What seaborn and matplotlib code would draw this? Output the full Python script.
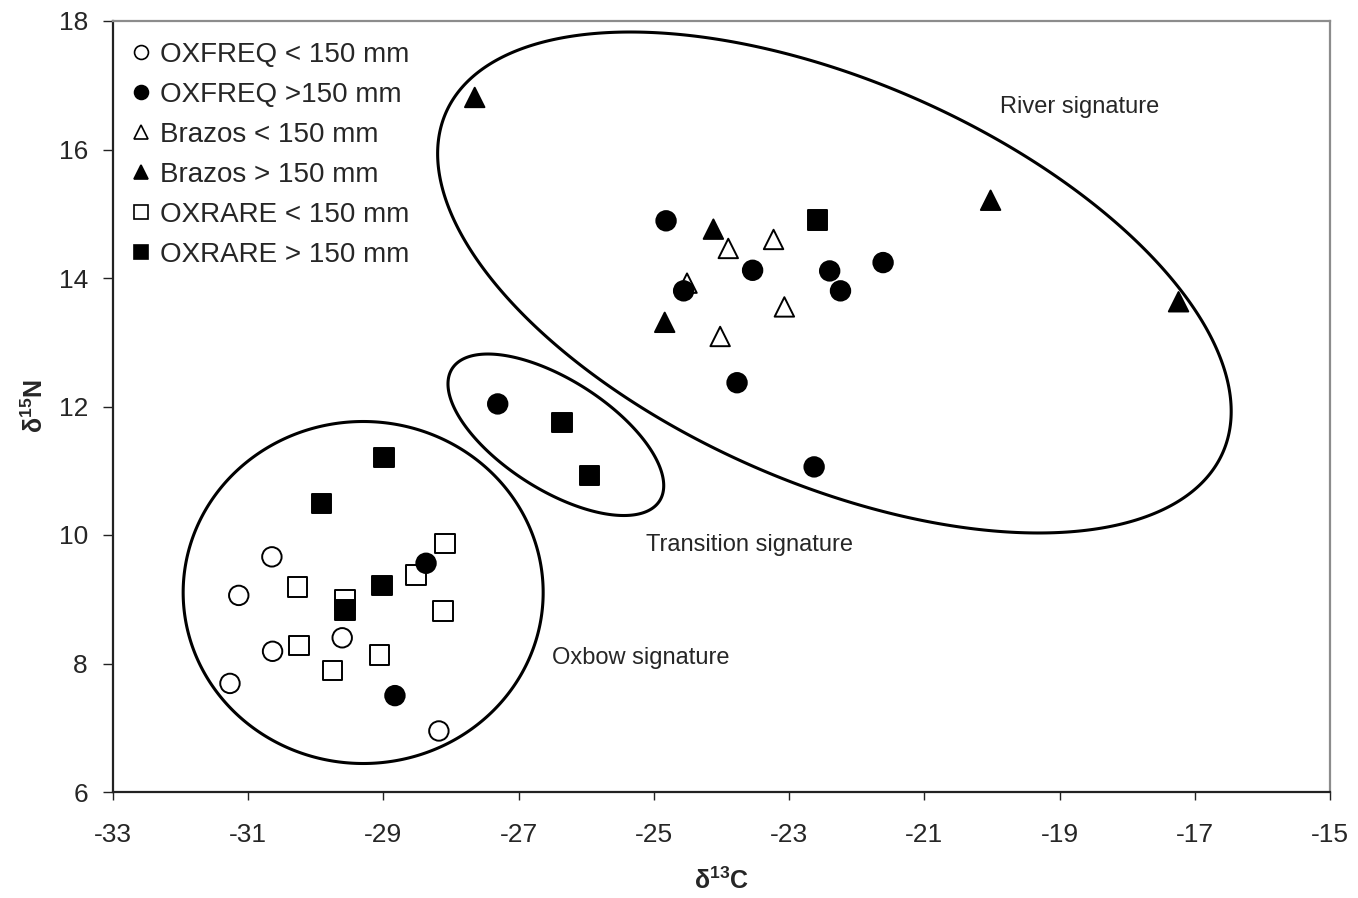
import numpy as np
import pandas as pd
import matplotlib
matplotlib.use("Agg")
import matplotlib.pyplot as plt
from matplotlib.lines import Line2D
from matplotlib.patches import Polygon
import seaborn as sns

# δ13C / δ15N values for each size class and habitat
oxfreq_small_c = [-30.65, -31.14, -30.64, -29.61, -31.27, -28.18]
oxfreq_small_n = [9.66, 9.06, 8.19, 8.40, 7.69, 6.95]

oxfreq_large_c = [-28.37, -28.83, -27.31, -24.82, -23.54, -22.40, -21.61, -22.24, -24.56, -23.77, -22.63]
oxfreq_large_n = [9.56, 7.50, 12.04, 14.89, 14.12, 14.11, 14.24, 13.80, 13.80, 12.37, 11.06]

brazos_small_c = [-23.90, -23.23, -24.51, -23.07, -24.02]
brazos_small_n = [14.46, 14.60, 13.92, 13.55, 13.09]

brazos_large_c = [-27.65, -24.12, -24.84, -20.02, -17.24]
brazos_large_n = [16.81, 14.76, 13.31, 15.21, 13.63]

oxrare_small_c = [-28.09, -28.52, -30.27, -29.57, -28.12, -30.25, -29.75, -29.06]
oxrare_small_n = [9.87, 9.38, 9.19, 8.99, 8.82, 8.28, 7.89, 8.13]

oxrare_large_c = [-28.99, -29.92, -29.02, -29.57, -26.36, -25.95, -22.58]
oxrare_large_n = [11.21, 10.49, 9.21, 8.83, 11.75, 10.93, 14.90]

legend_order = ["OXFREQ < 150 mm", "OXFREQ >150 mm", "Brazos < 150 mm",
                "Brazos > 150 mm", "OXRARE < 150 mm", "OXRARE > 150 mm"]
x_ticks = [-33, -31, -29, -27, -25, -23, -21, -19, -17, -15]
y_ticks = [6, 8, 10, 12, 14, 16, 18]

# open symbols first so the filled ones sit on top
groups = [
    ("OXFREQ < 150 mm", oxfreq_small_c, oxfreq_small_n),
    ("Brazos < 150 mm", brazos_small_c, brazos_small_n),
    ("OXRARE < 150 mm", oxrare_small_c, oxrare_small_n),
    ("OXFREQ >150 mm", oxfreq_large_c, oxfreq_large_n),
    ("Brazos > 150 mm", brazos_large_c, brazos_large_n),
    ("OXRARE > 150 mm", oxrare_large_c, oxrare_large_n),
]
df = pd.concat(
    [pd.DataFrame({"d13C": c, "d15N": n, "group": g}) for g, c, n in groups],
    ignore_index=True,
)

markers = {
    "OXFREQ < 150 mm": "o", "OXFREQ >150 mm": "o",
    "Brazos < 150 mm": "^", "Brazos > 150 mm": "^",
    "OXRARE < 150 mm": "s", "OXRARE > 150 mm": "s",
}
fills = {
    "OXFREQ < 150 mm": "white", "OXFREQ >150 mm": "black",
    "Brazos < 150 mm": "white", "Brazos > 150 mm": "black",
    "OXRARE < 150 mm": "white", "OXRARE > 150 mm": "black",
}

sns.set_theme(style="white")
plt.rcParams["font.family"] = ["Liberation Sans", "DejaVu Sans"]
plt.rcParams["mathtext.fontset"] = "custom"
plt.rcParams["mathtext.rm"] = "Liberation Sans"
plt.rcParams["mathtext.bf"] = "Liberation Sans:bold"

fig = plt.figure(figsize=(13.58, 8.98), dpi=100)
ax = fig.add_axes([113 / 1358, 1 - 792 / 898, 1217 / 1358, 771 / 898])
ax.set_xlim(-33, -15)
ax.set_ylim(6, 18)

sns.scatterplot(
    data=df, x="d13C", y="d15N", hue="group", style="group",
    palette=fills, markers=markers, s=196, edgecolor="black",
    linewidth=1.4, legend=False, ax=ax, zorder=3,
)


def draw_ring(cx, cy, a_px, b_px, angle_deg):
    """Closed elliptical outline, sized in screen pixels around a data point."""
    t = np.linspace(0, 2 * np.pi, 500, endpoint=False)
    x0, y0 = ax.transData.transform((cx, cy))
    th = np.deg2rad(angle_deg)
    xs = x0 + a_px * np.cos(t) * np.cos(th) - b_px * np.sin(t) * np.sin(th)
    ys = y0 + a_px * np.cos(t) * np.sin(th) + b_px * np.sin(t) * np.cos(th)
    pts = ax.transData.inverted().transform(np.column_stack([xs, ys]))
    ax.add_patch(Polygon(pts, closed=True, fill=False, edgecolor="black",
                         lw=2.2, zorder=2, joinstyle="round"))


draw_ring(-22.33, 13.93, 424, 201, -23.6)   # river
draw_ring(-26.45, 11.56, 123, 55, -32.5)    # transition
draw_ring(-29.30, 9.105, 180, 171, 0)       # oxbow

ax.text(-18.70, 16.66, "River signature", fontsize=17, ha="center", va="center")
ax.text(-23.58, 9.84, "Transition signature", fontsize=17, ha="center", va="center")
ax.text(-25.20, 8.09, "Oxbow signature", fontsize=17, ha="center", va="center")

# axes frame
for side in ("left", "bottom"):
    ax.spines[side].set_color("#222222")
    ax.spines[side].set_linewidth(1.6)
for side in ("top", "right"):
    ax.spines[side].set_color("#8c8c8c")
    ax.spines[side].set_linewidth(1.6)

ax.set_xticks(x_ticks)
ax.set_yticks(y_ticks)
ax.set_xticklabels([str(v) for v in x_ticks])
ax.set_yticklabels([str(v) for v in y_ticks])
ax.tick_params(axis="x", direction="out", length=6, width=1, color="#222222",
               pad=16, labelsize=19, bottom=True)
ax.tick_params(axis="y", direction="out", length=7, width=1, color="#222222",
               pad=11, labelsize=19, left=True)

ax.set_xlabel("δ$^{\\mathbf{13}}$C", fontsize=18, fontweight="bold")
ax.set_ylabel("δ$^{\\mathbf{15}}$N", fontsize=18, fontweight="bold")
ax.xaxis.set_label_coords(0.5, (792 - 881) / 771)
ax.xaxis.label.set_va("center")
ax.yaxis.set_label_coords((35 - 113) / 1217, 0.5)
ax.yaxis.label.set_va("center")

handles = [
    Line2D([], [], linestyle="none", marker=markers[g], markersize=10,
           markerfacecolor=fills[g], markeredgecolor="black", markeredgewidth=1.2)
    for g in legend_order
]
ax.legend(handles, legend_order, loc="upper left", bbox_to_anchor=(0.0, 1.0),
          frameon=False, fontsize=20, handlelength=0.5, handletextpad=0.45,
          labelspacing=0.5, borderaxespad=0.46, borderpad=0.3)

fig.savefig("out.png", dpi=100, facecolor="white")
